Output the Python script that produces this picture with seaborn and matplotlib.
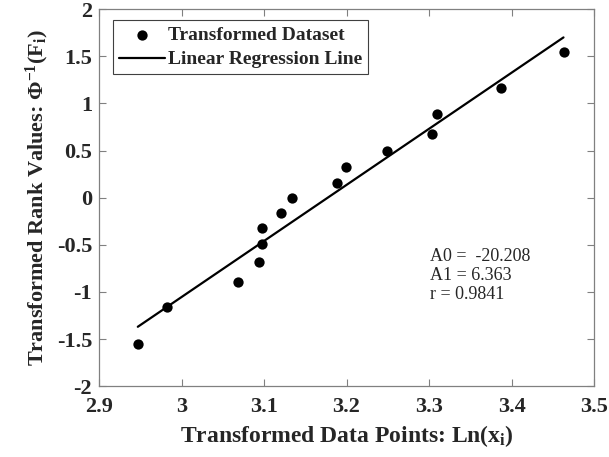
import matplotlib
matplotlib.use('Agg')
import matplotlib.pyplot as plt
import seaborn as sns
import pandas as pd

# values
ln_x = [2.947, 2.982, 3.069, 3.094, 3.097, 3.097, 3.120, 3.134,
        3.189, 3.199, 3.249, 3.304, 3.310, 3.387, 3.464]
rank_z = [-1.55, -1.16, -0.89, -0.68, -0.49, -0.32, -0.16, 0.0,
          0.16, 0.32, 0.49, 0.68, 0.89, 1.16, 1.55]
line_x = [2.947, 3.463]
line_y = [-1.37, 1.70]
stats_text = "A0 =  -20.208\nA1 = 6.363\nr = 0.9841"

df = pd.DataFrame({'x': ln_x, 'y': rank_z})
fit = pd.DataFrame({'x': line_x, 'y': line_y})

sns.set_style('ticks')
plt.rcParams['font.family'] = ['Liberation Serif', 'DejaVu Serif']
plt.rcParams['mathtext.fontset'] = 'custom'
plt.rcParams['mathtext.rm'] = 'Liberation Serif:bold'
plt.rcParams['mathtext.it'] = 'Liberation Serif:bold'
plt.rcParams['mathtext.bf'] = 'Liberation Serif:bold'

fig, ax = plt.subplots(figsize=(6.09, 4.57), dpi=100)
fig.subplots_adjust(left=0.1626, right=0.9754, top=0.980, bottom=0.155)

sns.scatterplot(data=df, x='x', y='y', ax=ax, color='black', s=55,
                edgecolor='black', linewidth=0, label='Transformed Dataset', zorder=3)
sns.lineplot(data=fit, x='x', y='y', ax=ax, color='black', linewidth=1.6,
             label='Linear Regression Line')

ax.set_xlim(2.9, 3.5)
ax.set_ylim(-2, 2)
ax.set_xticks([2.9, 3.0, 3.1, 3.2, 3.3, 3.4, 3.5])
ax.set_xticklabels(['2.9', '3', '3.1', '3.2', '3.3', '3.4', '3.5'])
ax.set_yticks([-2, -1.5, -1, -0.5, 0, 0.5, 1, 1.5, 2])
ax.set_yticklabels(['-2', '-1.5', '-1', '-0.5', '0', '0.5', '1', '1.5', '2'])
ax.tick_params(direction='in', top=True, right=True, length=5, width=0.8,
               color='#808080', labelsize=16)
ax.tick_params(axis='x', pad=8)
ax.tick_params(axis='y', pad=5)
for lab in ax.get_xticklabels() + ax.get_yticklabels():
    lab.set_fontweight('bold')
for sp in ax.spines.values():
    sp.set_color('#808080')
    sp.set_linewidth(0.9)

ax.set_xlabel('Transformed Data Points: Ln(x$_{i}$)', fontsize=17,
              fontweight='bold', labelpad=4)
ax.set_ylabel('Transformed Rank Values: Φ$^{-1}$(F$_{i}$)', fontsize=16,
              fontweight='bold', labelpad=4)

ax.text(3.301, -0.53, stats_text, fontsize=13, va='top', ha='left',
        linespacing=1.15)

leg = ax.legend(loc='upper left', bbox_to_anchor=(0.028, 0.97), fancybox=False,
                framealpha=1, edgecolor='#404040', prop={'weight': 'bold', 'size': 14},
                handlelength=2.4, handletextpad=0.15, borderpad=0.3,
                labelspacing=0.35, borderaxespad=0)
leg.get_frame().set_linewidth(0.8)

fig.savefig('out.png', dpi=100)
